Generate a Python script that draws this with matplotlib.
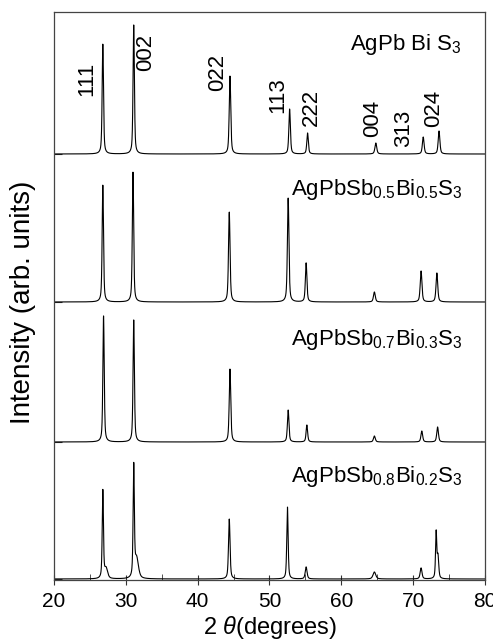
import numpy as np
import matplotlib.pyplot as plt
from matplotlib.ticker import MultipleLocator

plt.rcParams['font.family'] = ['Liberation Sans', 'DejaVu Sans']
plt.rcParams['mathtext.fontset'] = 'custom'
plt.rcParams['mathtext.rm'] = 'Liberation Sans'
plt.rcParams['mathtext.it'] = 'Liberation Sans:italic'
plt.rcParams['mathtext.default'] = 'regular'

# peak list of each pattern: position (2theta), height, fwhm
names = [r'AgPb Bi S$_3$',
         r'AgPbSb$_{0.5}$Bi$_{0.5}$S$_3$',
         r'AgPbSb$_{0.7}$Bi$_{0.3}$S$_3$',
         r'AgPbSb$_{0.8}$Bi$_{0.2}$S$_3$']
offsets = [426, 278, 138, 1]

pos_a = [26.8, 31.1, 44.5, 52.8, 55.3, 64.8, 71.4, 73.6]
hgt_a = [110, 129, 78, 45, 21, 11, 17, 23]
fw_a = [0.22, 0.22, 0.25, 0.25, 0.25, 0.3, 0.28, 0.28]

pos_b = [26.8, 31.0, 44.4, 52.6, 55.1, 64.6, 71.1, 73.3]
hgt_b = [117, 130, 90, 104, 39, 10, 31, 29]
fw_b = [0.22, 0.22, 0.25, 0.25, 0.25, 0.3, 0.28, 0.28]

pos_c = [26.9, 31.1, 44.5, 52.6, 55.2, 64.6, 71.2, 73.4]
hgt_c = [126, 122, 73, 32, 17, 6, 11, 15]
fw_c = [0.22, 0.22, 0.25, 0.25, 0.25, 0.3, 0.28, 0.28]

pos_d = [26.8, 27.25, 31.1, 31.5, 44.4, 52.5, 55.1, 64.6, 71.1, 73.2, 73.45]
hgt_d = [88, 10, 110, 20, 60, 72, 12, 7, 11, 46, 22]
fw_d = [0.2, 0.5, 0.2, 0.6, 0.25, 0.22, 0.3, 0.45, 0.3, 0.2, 0.25]

peak_sets = [(pos_a, hgt_a, fw_a), (pos_b, hgt_b, fw_b),
             (pos_c, hgt_c, fw_c), (pos_d, hgt_d, fw_d)]

hkl = ['111', '002', '022', '113', '222', '004', '313', '024']
hkl_x = [24.6, 32.8, 42.8, 51.2, 55.8, 64.3, 68.7, 72.9]
hkl_y = [501, 528, 508, 485, 473, 462, 452, 472]

label_y = [530, 385, 235, 98]


def pseudo_voigt(x, x0, h, w, eta=0.55):
    g = np.exp(-4 * np.log(2) * ((x - x0) / w) ** 2)
    lor = 1.0 / (1 + 4 * ((x - x0) / w) ** 2)
    return h * (eta * lor + (1 - eta) * g)


tt = np.linspace(20, 80, 4001)

fig = plt.figure(figsize=(4.93, 6.42), dpi=100)
ax = fig.add_axes([0.1095, 0.0966, 0.8743, 0.8847])

for (pos, hgt, fw), off, name, ly in zip(peak_sets, offsets, names, label_y):
    y = np.full_like(tt, off, dtype=float)
    for p, h, w in zip(pos, hgt, fw):
        y += pseudo_voigt(tt, p, h, w)
    ax.plot(tt, y, color='black', lw=0.8)
    ax.text(76.8, ly, name, ha='right', va='baseline', fontsize=16)

for t, x, y in zip(hkl, hkl_x, hkl_y):
    ax.text(x, y, t, rotation=90, ha='center', va='center', fontsize=16)

ax.set_xlim(20, 80)
ax.set_ylim(0, 568)
# a small tick marks the zero line of each pattern
ax.set_yticks(offsets)
ax.set_yticklabels([])
ax.tick_params(axis='y', direction='in', length=6, color='#333333')
ax.xaxis.set_major_locator(MultipleLocator(10))
ax.xaxis.set_minor_locator(MultipleLocator(5))
ax.tick_params(axis='x', which='major', direction='inout', length=7,
               labelsize=15, pad=5, color='#333333')
ax.tick_params(axis='x', which='minor', direction='in', length=4,
               color='#333333')
for s in ax.spines.values():
    s.set_color('#444444')
    s.set_linewidth(0.9)

fig.text(0.5477, 0.0125, r'2 $\mathit{\theta}$(degrees)', fontsize=17,
         ha='center', va='baseline')
fig.text(23 / 493, 1 - 302 / 642, 'Intensity (arb. units)', fontsize=20,
         rotation=90, ha='center', va='center')

fig.savefig('out.png', dpi=100)
